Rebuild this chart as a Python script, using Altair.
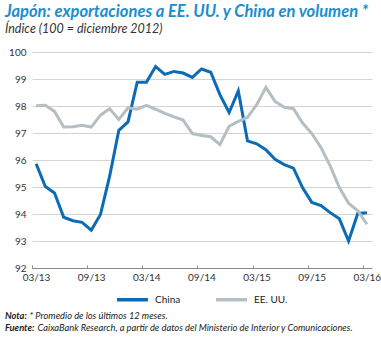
import altair as alt
import pandas as pd

months = ["03/13", "04/13", "05/13", "06/13", "07/13", "08/13", "09/13", "10/13", "11/13", "12/13",
          "01/14", "02/14", "03/14", "04/14", "05/14", "06/14", "07/14", "08/14", "09/14", "10/14",
          "11/14", "12/14", "01/15", "02/15", "03/15", "04/15", "05/15", "06/15", "07/15", "08/15",
          "09/15", "10/15", "11/15", "12/15", "01/16", "02/16", "03/16"]
china = [95.86, 95.02, 94.78, 93.88, 93.75, 93.69, 93.40, 93.98, 95.40, 97.10,
         97.41, 98.88, 98.88, 99.46, 99.17, 99.28, 99.22, 99.06, 99.37, 99.25,
         98.42, 97.76, 98.56, 96.71, 96.60, 96.38, 96.03, 95.83, 95.70, 94.97,
         94.43, 94.31, 94.05, 93.82, 93.00, 94.02, 94.05]
usa = [98.01, 98.03, 97.80, 97.22, 97.23, 97.29, 97.22, 97.66, 97.90, 97.50,
       97.93, 97.88, 98.02, 97.88, 97.73, 97.60, 97.48, 96.98, 96.91, 96.86,
       96.57, 97.25, 97.43, 97.58, 98.05, 98.69, 98.17, 97.95, 97.90, 97.37,
       96.98, 96.46, 95.78, 94.98, 94.40, 94.12, 93.62]
series = ["China", "EE. UU."]
tick_labels = ["03/13", "09/13", "03/14", "09/14", "03/15", "09/15", "03/16"]
y_ticks = [92, 93, 94, 95, 96, 97, 98, 99, 100]

BLUE = "#0b6cb5"
GRAY = "#b4bec3"
TITLE_BLUE = "#1b8dd0"
FONT = "Lato"

rows = []
for i, m in enumerate(months):
    rows.append({"idx": i + 0.45, "mes": m, "serie": series[0], "valor": china[i]})
    rows.append({"idx": i + 0.45, "mes": m, "serie": series[1], "valor": usa[i]})
df = pd.DataFrame(rows)

label_arr = "[" + ",".join("'%s'" % t for t in tick_labels) + "]"

x_scale = alt.Scale(domain=[0, 37], nice=False, zero=False)
y_scale = alt.Scale(domain=[92, 100], nice=False, zero=False)

lines = alt.Chart(df).mark_line(strokeWidth=3, strokeJoin="miter").encode(
    x=alt.X("idx:Q", scale=x_scale,
            axis=alt.Axis(values=[0, 6, 12, 18, 24, 30, 36], labelExpr=label_arr + "[round(datum.value/6)]",
                          title=None, grid=False, domain=False, offset=-3, tickSize=3,
                          tickColor="#888888", tickWidth=1, labelPadding=4, labelOffset=4,
                          labelFlush=False, labelOverlap=False,
                          labelFont=FONT, labelFontSize=10, labelColor="#333333")),
    y=alt.Y("valor:Q", scale=y_scale,
            axis=alt.Axis(values=y_ticks, title=None, domain=False, ticks=False, labelPadding=6,
                          gridColor={"condition": {"test": "datum.value === 92", "value": "#8a8a8a"},
                                     "value": "#d4d4d4"},
                          gridWidth=1, labelOverlap=False, labelFlush=False,
                          labelFont=FONT, labelFontSize=10, labelColor="#333333")),
    color=alt.Color("serie:N", scale=alt.Scale(domain=series, range=[BLUE, GRAY]),
                    legend=alt.Legend(title=None, orient="none", legendX=83, legendY=230,
                                      direction="horizontal", symbolType="stroke",
                                      symbolSize=961, symbolStrokeWidth=3.5,
                                      labelFont=FONT, labelFontSize=10, labelColor="#222222",
                                      labelOffset=5, columnPadding=28)),
    detail="serie:N",
)

def txt(text, x, y, size, color="#222222", weight="normal", style="italic"):
    return alt.Chart(alt.Data(values=[{}])).mark_text(
        text=text, align="left", baseline="alphabetic", font=FONT, fontSize=size,
        fontWeight=weight, fontStyle=style, color=color
    ).encode(x=alt.value(x), y=alt.value(y))

title = txt("Japón: exportaciones a EE. UU. y China en volumen *", -27, -35.5, 16.5, TITLE_BLUE, "bold")
subtitle = txt("Índice (100 = diciembre 2012)", -27, -19, 12.5, "#333333")
nota_b = txt("Nota:", -27, 266.5, 9.3, "#222222", "bold")
nota = txt("* Promedio de los últimos 12 meses.", -2.5, 266.5, 9.3, "#222222")
fuente_b = txt("Fuente:", -27, 279, 9.3, "#222222", "bold")
fuente = txt("CaixaBank Research, a partir de datos del Ministerio de Interior y Comunicaciones.", 5.5, 279, 9.3, "#222222")

chart = alt.layer(lines, title, subtitle, nota_b, nota, fuente_b, fuente).properties(
    width=340, height=216,
    autosize=alt.AutoSizeParams(type="none"),
    padding={"left": 32, "top": 52, "right": 9, "bottom": 70},
    background="white",
).configure_view(stroke=None)

chart.save("out.html", embed_options={"renderer": "svg", "actions": False})
